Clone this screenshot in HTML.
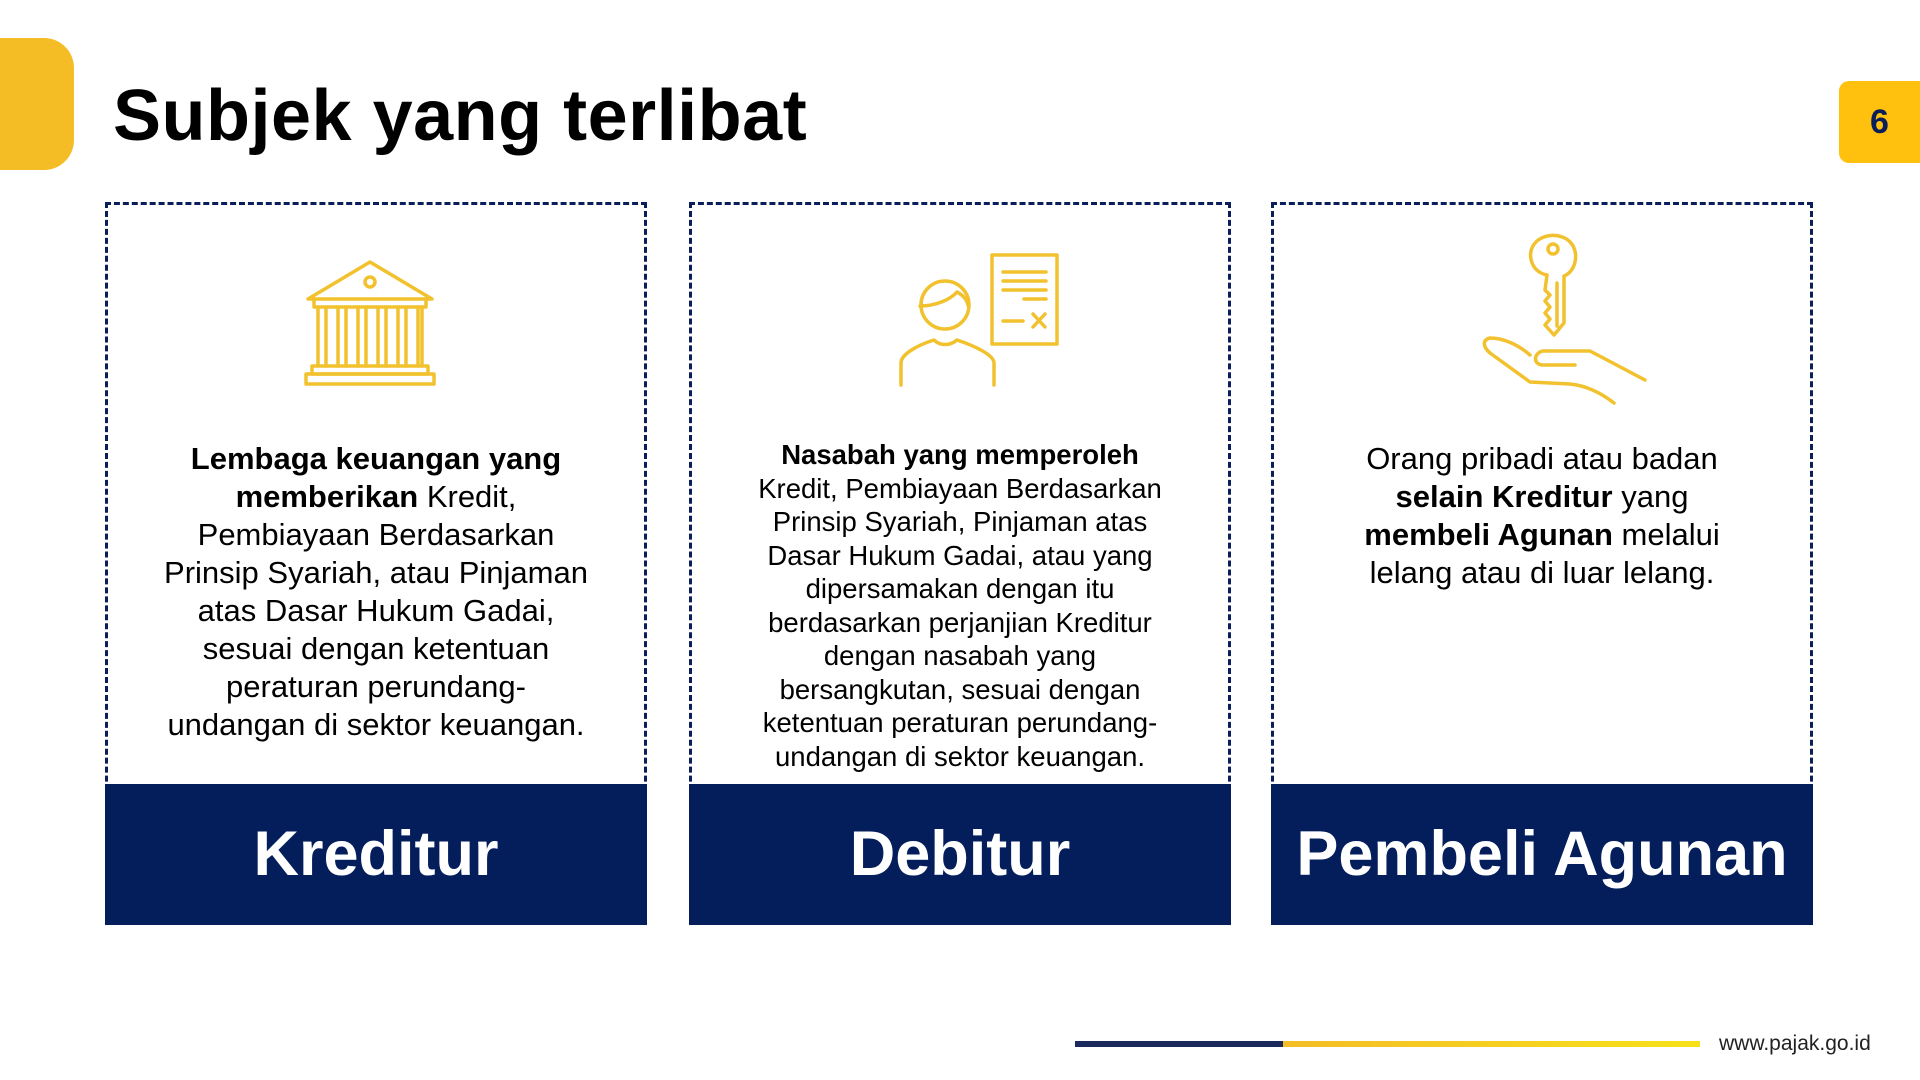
<!DOCTYPE html>
<html><head><meta charset="utf-8"><style>
*{margin:0;padding:0;box-sizing:border-box}
body{width:1920px;height:1080px;background:#fff;position:relative;overflow:hidden;font-family:"Liberation Sans",sans-serif;color:#000}
.tab{position:absolute;left:-20px;top:38px;width:94px;height:132px;background:#F4BD26;border-radius:0 30px 30px 0}
.title{position:absolute;left:113px;top:80px;font-size:72px;font-weight:bold;line-height:1;letter-spacing:0.5px}
.badge{position:absolute;left:1839px;top:81px;width:100px;height:82px;background:#FFC10E;border-radius:10px 0 0 10px;font-weight:bold;font-size:34px;color:#0a1e5a;line-height:82px;padding-left:31px}
.box{position:absolute;top:202px;width:542px;height:723px;border:3px dashed #0a1e5a}
.foot{position:absolute;left:-3px;right:-3px;bottom:-3px;height:141px;background:#041E5C;color:#fff;font-weight:bold;font-size:63px;text-align:center;line-height:141px}
.txt{position:absolute;left:-20px;right:-20px;text-align:center;white-space:nowrap}
.t1{font-size:31px;line-height:38px}
.t2{font-size:27.5px;line-height:33.5px}
svg{position:absolute}
.url{position:absolute;left:1719px;top:1032px;font-size:21px;color:#222}
</style></head><body>
<div class="tab"></div>
<div class="title">Subjek yang terlibat</div>
<div class="badge">6</div>

<div class="box" style="left:105px">
 <div class="txt t1" style="top:235px">
  <b>Lembaga keuangan yang</b><br><b>memberikan</b> Kredit,<br>Pembiayaan Berdasarkan<br>Prinsip Syariah, atau Pinjaman<br>atas Dasar Hukum Gadai,<br>sesuai dengan ketentuan<br>peraturan perundang-<br>undangan di sektor keuangan.
 </div>
 <div class="foot">Kreditur</div>
</div>
<div class="box" style="left:689px">
 <div class="txt t2" style="top:233px">
  <b>Nasabah yang memperoleh</b><br>Kredit, Pembiayaan Berdasarkan<br>Prinsip Syariah, Pinjaman atas<br>Dasar Hukum Gadai, atau yang<br>dipersamakan dengan itu<br>berdasarkan perjanjian Kreditur<br>dengan nasabah yang<br>bersangkutan, sesuai dengan<br>ketentuan peraturan perundang-<br>undangan di sektor keuangan.
 </div>
 <div class="foot">Debitur</div>
</div>
<div class="box" style="left:1271px">
 <div class="txt t1" style="top:235px">
  Orang pribadi atau badan<br><b>selain Kreditur</b> yang<br><b>membeli Agunan</b> melalui<br>lelang atau di luar lelang.
 </div>
 <div class="foot">Pembeli Agunan</div>
</div>

<svg width="1920" height="1080" style="left:0;top:0" fill="none" stroke="#F2C12E" stroke-width="3.5" stroke-linejoin="round" stroke-linecap="round">
 <path d="M370 262 L308 299 L432 299 Z"/>
 <path d="M314 299 L314 307 L426 307 L426 299"/>
 <circle cx="370" cy="282" r="5"/>
 <path d="M318 307 L318 366 M326 307 L326 366 M338 307 L338 366 M346 307 L346 366 M358 307 L358 366 M366 307 L366 366 M378 307 L378 366 M386 307 L386 366 M398 307 L398 366 M406 307 L406 366 M418 307 L418 366 M422 307 L422 366"/>
 <path d="M312 366 L428 366 L428 374 L312 374 Z"/>
 <path d="M306 374 L434 374 L434 384 L306 384 Z"/>
 <circle cx="945" cy="305" r="24"/>
 <path d="M920 306 C935 306 950 300 957 292 C963 295 967 300 968 305"/>
 <path d="M901 385 L901 363 C901 355 915 346 934 340 C940 346 950 346 957 340 C975 346 994 355 994 363 L994 385"/>
 <rect x="992" y="255" width="65" height="89"/>
 <path d="M1003 272 L1046 272 M1003 281 L1046 281 M1003 290 L1046 290 M1024 299 L1046 299 M1003 321 L1023 321 M1033 314 L1045 327 M1045 314 L1033 327"/>
 <path d="M1547 275 C1532 272 1527 256 1533 246 C1540 233 1562 232 1571 243 C1580 254 1575 272 1564 276 L1564 323 L1554 335 L1545 325 L1550 319 L1545 313 L1550 307 L1545 301 L1550 295 L1545 290 Z"/>
 <circle cx="1553" cy="249" r="5"/>
 <path d="M1557 283 L1557 326"/>
 <path d="M1530 355 C1515 342 1500 338 1490 338 C1482 340 1483 347 1490 353 L1530 382 L1570 384 C1590 386 1605 396 1614 403"/>
 <path d="M1575 365 L1543 365 C1533 365 1533 353 1543 351 L1590 351 L1645 380"/>
</svg>

<div style="position:absolute;left:1075px;top:1041px;width:208px;height:6px;background:#1B2A5C"></div>
<div style="position:absolute;left:1283px;top:1041px;width:417px;height:6px;background:linear-gradient(90deg,#F4BD26,#F7E11A)"></div>
<div class="url">www.pajak.go.id</div>
</body></html>
